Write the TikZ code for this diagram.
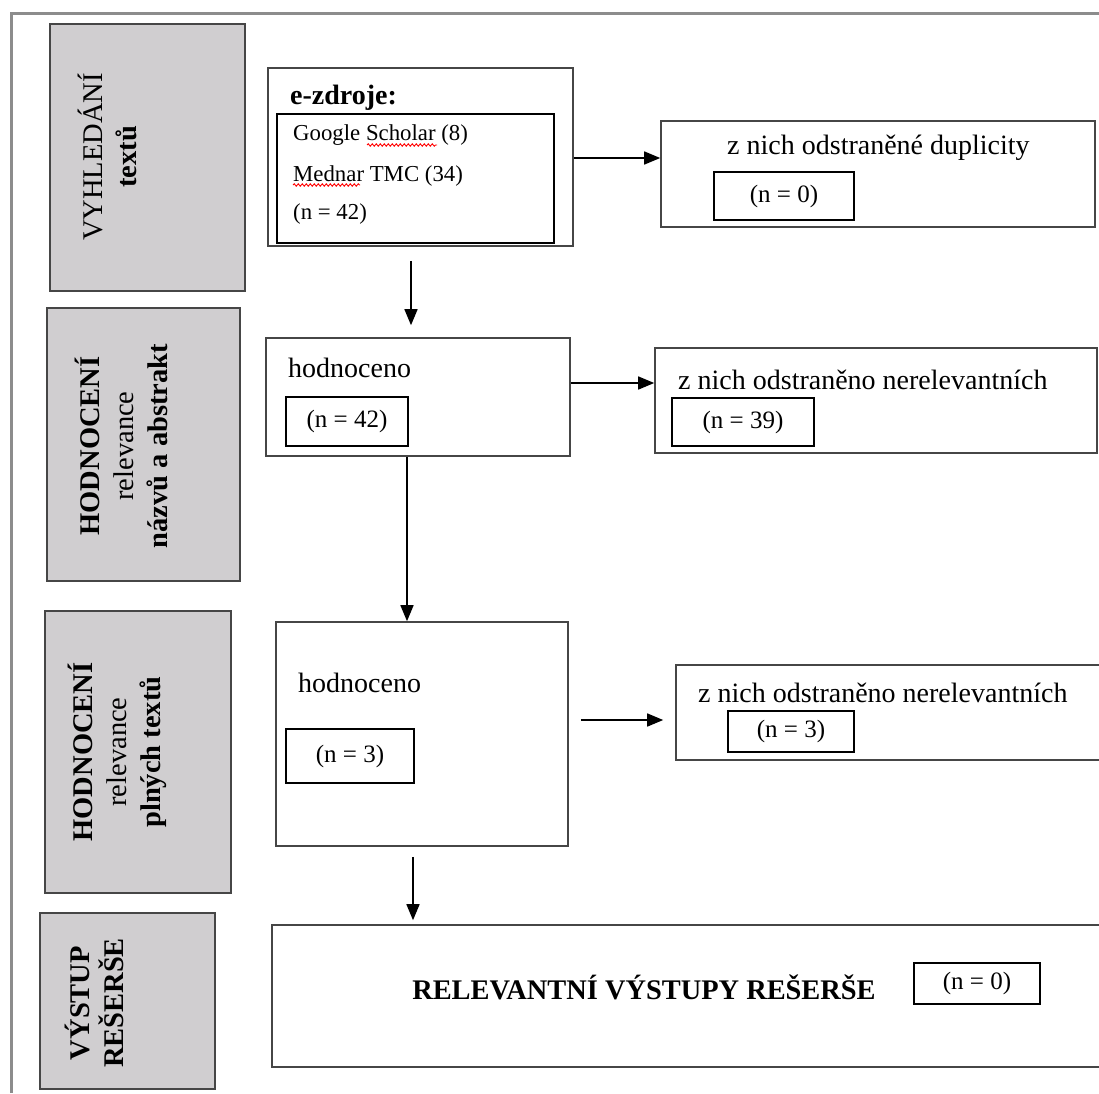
\documentclass[tikz,border=0pt]{standalone}
\usepackage{fontspec}
\setmainfont{Liberation Serif}
\usetikzlibrary{arrows.meta,decorations.pathmorphing,fit}
\definecolor{boxgray}{RGB}{208,206,208}
\definecolor{framegray}{RGB}{140,140,140}
\definecolor{edgegray}{RGB}{70,70,70}
\begin{document}
\begin{tikzpicture}[x=1pt,y=-1pt,
  phasebox/.style={draw=edgegray, line width=1.6pt, fill=boxgray, inner sep=0pt, rectangle},
  phasetext/.style={rotate=90, align=center, font=\fontsize{28.5}{34}\selectfont, inner sep=0pt},
  outerbox/.style={draw=edgegray, line width=1.6pt, fill=white, inner sep=0pt, rectangle},
  innerbox/.style={draw=black, line width=1.6pt, inner sep=0pt, rectangle},
  numtext/.style={font=\fontsize{25}{28}\selectfont, inner sep=0pt},
  maintext/.style={font=\fontsize{28}{32}\selectfont, inner sep=0pt, anchor=west},
  listtext/.style={font=\fontsize{22.8}{26}\selectfont, inner sep=0pt, anchor=west},
  arr/.style={draw=black, line width=1.5pt, -{Triangle[length=16pt,width=13pt]}},
  spell/.style={draw=red, line width=0.9pt, decorate, decoration={snake, amplitude=1.2pt, segment length=4pt}}
]
\useasboundingbox (0,0) rectangle (1099,1093);
\fill[white] (0,0) rectangle (1099,1093);

% outer frame
\draw[framegray, line width=3pt] (11,1093) -- (11,13) -- (1099,13);

% phase boxes
\node[phasebox, fit={(50,24) (245,291)}] (P1) {};
\node[phasebox, fit={(47,308) (240,581)}] (P2) {};
\node[phasebox, fit={(45,611) (231,893)}] (P3) {};
\node[phasebox, fit={(40,913) (215,1089)}] (P4) {};
\node[phasetext] (T1) at (107,157) {VYHLEDÁNÍ\\\textbf{textů}};
\node[phasetext] (T2) at (121,446) {\textbf{HODNOCENÍ}\\relevance\\\textbf{názvů a abstrakt}};
\node[phasetext] (T3) at (117,752) {\textbf{HODNOCENÍ}\\relevance\\\textbf{plných textů}};
\node[phasetext] (T4) at (94,1003) {\textbf{VÝSTUP}\\\textbf{REŠERŠE}};

% row 1
\node[outerbox, fit={(268,68) (573,246)}] (A) {};
\node[innerbox, fit={(277,114) (554,243)}] (Ai) {};
\node[maintext] (Atitle) at (290,98) {\textbf{e-zdroje:}};
\node[listtext] (L1) at (293,135) {Google Scholar (8)};
\node[listtext] (L2) at (293,176) {Mednar TMC (34)};
\node[listtext] (L3) at (293,214) {(n = 42)};
\draw[spell] (367,145) -- (437,145);
\draw[spell] (293,185) -- (360,185);

\node[outerbox, fit={(661,121) (1095,227)}] (B) {};
\node[maintext] (Btitle) at (727,148) {z nich odstraněné duplicity};
\node[innerbox, fit={(714,172) (854,220)}] (Bi) {};
\node[numtext] (Bn) at (Bi.center) {(n = 0)};

% row 2
\node[outerbox, fit={(266,338) (570,456)}] (C) {};
\node[maintext] (Ctitle) at (288,368) {hodnoceno};
\node[innerbox, fit={(286,397) (408,446)}] (Ci) {};
\node[numtext] (Cn) at (Ci.center) {(n = 42)};

\node[outerbox, fit={(655,348) (1097,453)}] (D) {};
\node[maintext] (Dtitle) at (678,380) {z nich odstraněno nerelevantních};
\node[innerbox, fit={(672,398) (814,446)}] (Di) {};
\node[numtext] (Dn) at (Di.center) {(n = 39)};

% row 3
\node[outerbox, fit={(276,622) (568,846)}] (E) {};
\node[maintext] (Etitle) at (298,683) {hodnoceno};
\node[innerbox, fit={(286,729) (414,783)}] (Ei) {};
\node[numtext] (En) at (Ei.center) {(n = 3)};

\node[outerbox, fit={(676,665) (1106,760)}] (F) {};
\node[maintext] (Ftitle) at (698,693) {z nich odstraněno nerelevantních};
\node[innerbox, fit={(728,711) (854,752)}] (Fi) {};
\node[numtext] (Fn) at (Fi.center) {(n = 3)};

% row 4
\node[outerbox, fit={(272,925) (1106,1067)}] (G) {};
\node[font=\fontsize{28.4}{32}\selectfont\bfseries, inner sep=0pt] (Gtitle) at (644,987) {RELEVANTNÍ VÝSTUPY REŠERŠE};
\node[innerbox, fit={(914,963) (1040,1004)}] (Gi) {};
\node[numtext] (Gn) at (Gi.center) {(n = 0)};

% connectors
\coordinate (xAC) at (411,0);
\coordinate (xCE) at (407,0);
\coordinate (xEG) at (413,0);
\coordinate (yAB) at (0,158);
\coordinate (yCD) at (0,383);
\coordinate (yEF) at (0,720);

\draw[arr] (A.east |- yAB) -- (B.west |- yAB);
\draw[arr, shorten <=14pt, shorten >=12pt] (xAC |- A.south) -- (xAC |- C.north);
\draw[arr] (C.east |- yCD) -- (D.west |- yCD);
\draw[arr] (xCE |- C.south) -- (xCE |- E.north);
\draw[arr, shorten <=12pt, shorten >=12pt] (E.east |- yEF) -- (F.west |- yEF);
\draw[arr, shorten <=10pt, shorten >=4pt] (xEG |- E.south) -- (xEG |- G.north);
\end{tikzpicture}
\end{document}
